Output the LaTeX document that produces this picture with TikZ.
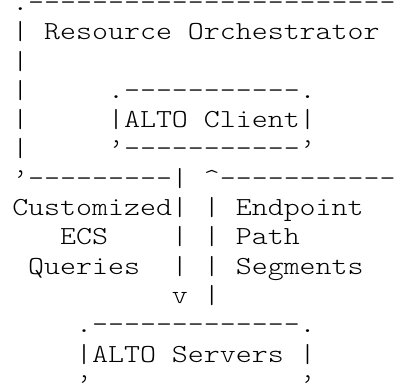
\documentclass[tikz,border=0pt]{standalone}
\usepackage{fontspec}
\newfontfamily\asciifont[FakeStretch=1.17,Ligatures=TeXOff]{lmmonolt10-regular.otf}

\begin{document}
\begin{tikzpicture}[x=0.75pt,y=-0.75pt,
    ascii line/.style={anchor=base west,inner sep=0pt,
      font=\asciifont\fontsize{19.5}{21}\selectfont\frenchspacing}]
  \useasboundingbox (0,0) rectangle (398,385);

  % orchestrator box with the client inside
  \node[ascii line] (l0) at (12,10.4) {.-----------------------};
  \node[ascii line] (l1) at (12,39.7) {|~Resource~Orchestrator};
  \node[ascii line] (l2) at (12,69) {|};
  \node[ascii line] (l3) at (12,98.3) {|~~~~~.-----------.};
  \node[ascii line] (l4) at (12,127.6) {|~~~~~|ALTO~Client|};
  \node[ascii line] (l5) at (12,156.9) {|~~~~~’-----------’};
  \node[ascii line] (l6) at (12,186.2) {’---------|~\textasciicircum-----------};

  % queries down, segments up
  \node[ascii line] (l7) at (12,215.5) {Customized|~|~Endpoint};
  \node[ascii line] (l8) at (12,244.8) {~~~ECS~~~~|~|~Path};
  \node[ascii line] (l9) at (12,274.1) {~Queries~~|~|~Segments};
  \node[ascii line] (l10) at (12,303.4) {~~~~~~~~~~v~|};

  % servers
  \node[ascii line] (l11) at (12,332.7) {~~~~.-------------.};
  \node[ascii line] (l12) at (12,362) {~~~~|ALTO~Servers~|};
  \node[ascii line] (l13) at (12,391.3) {~~~~’~~~~~~~~~~~~~’};
\end{tikzpicture}
\end{document}
